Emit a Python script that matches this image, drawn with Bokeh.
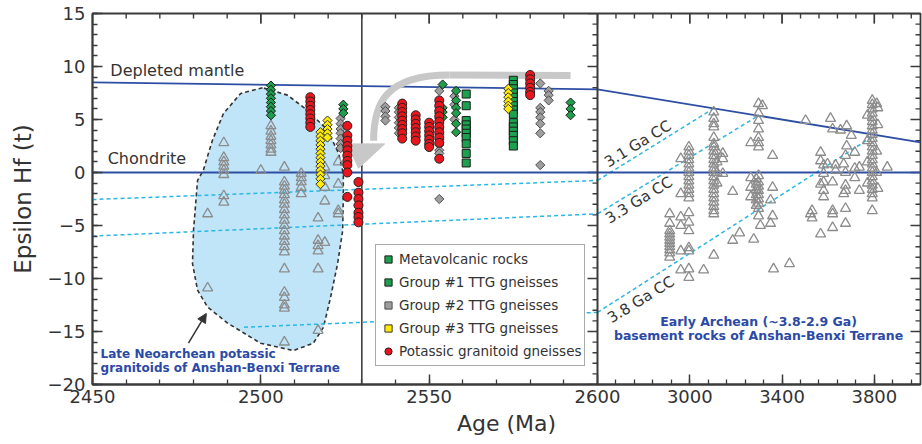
from bokeh.plotting import figure
from bokeh.models import (Range1d, LinearAxis, FixedTicker, Span, Legend, LegendItem,
                          Arrow, NormalHead)
from bokeh.core.properties import value
from bokeh.embed import file_html
from bokeh.resources import INLINE

# ---------------- data (Age in Ma, epsilon Hf(t)) ----------------
# Metavolcanic rocks (green squares)
mv_age = [2561, 2575]
mv_ehf = [[7.4, 6.3, 4.9, 4.5, 4.1, 3.7, 3.3, 2.7, 1.8, 0.9],
          [8.7, 8.3, 7.9, 7.5, 7.1, 6.7, 6.3, 5.9, 5.5, 4.7, 4.3, 3.9, 3.5, 3.0, 2.5]]
# Group #1 TTG gneisses (green diamonds)
g1_age = [2503, 2524.5, 2554, 2558, 2592]
g1_ehf = [[8.2, 7.8, 7.4, 7.0, 6.6, 6.2, 5.8, 5.4],
          [6.4, 6.0, 5.6],
          [8.3, 6.1, 5.7, 5.2],
          [7.7, 6.8, 6.1, 5.6, 4.6, 3.8],
          [6.6, 6.0, 5.4]]
# Group #2 TTG gneisses (grey diamonds)
g2_age = [2523.7, 2537, 2541, 2553, 2557.5, 2583, 2585.5]
g2_ehf = [[5.1, 4.6, 4.1, 3.7, 3.2, 2.7, 2.3],
          [6.2, 5.8, 5.3, 4.9],
          [6.1, 5.7, 5.2, 4.7, 4.2, 3.7],
          [7.7, 5.6, 5.1, 4.6, 4.1, 3.6, 3.1, 2.6, 2.1, 1.8, -2.5],
          [7.2, 6.4, 5.0],
          [8.4, 6.1, 5.7, 5.2, 4.6, 3.7, 0.7],
          [7.7, 7.3, 6.8]]
# Group #3 TTG gneisses (yellow diamonds)
g3_age = [2517.7, 2519.8, 2573.5]
g3_ehf = [[3.8, 3.4, 3.0, 2.6, 2.2, 1.8, 1.4, 1.0, 0.6, 0.2, -0.2, -0.6, -1.1],
          [4.9, 4.5, 4.1, 3.7, 3.3],
          [7.9, 7.5, 7.1, 6.7, 6.3, 6.0]]
# Potassic granitoid gneisses (red circles)
kg_age = [2514.7, 2525.7, 2529, 2542, 2546, 2550, 2553, 2580]
kg_ehf = [[7.1, 6.7, 6.3, 5.9, 5.5, 5.1, 4.7, 4.3],
          [4.4, 3.5, 3.0, 2.5, 2.1, 1.6, 1.1, 0.7, 0.0, -2.3],
          [-0.9, -1.9, -2.5, -3.1, -3.8, -4.2, -4.7],
          [6.5, 6.1, 5.7, 5.3, 4.9, 4.5, 4.1, 3.7, 3.2],
          [5.4, 5.0, 4.6, 4.2, 3.8, 3.4, 3.0],
          [4.7, 4.3, 3.9, 3.5, 3.1, 2.7, 2.4],
          [6.8, 6.3, 5.8, 5.3, 4.8, 4.3, 3.8, 3.3, 2.8, 1.3],
          [9.2, 8.8, 8.4, 8.0, 7.6, 7.3]]
# Late Neoarchean potassic granitoids (open triangles, left panel)
tl_age = [2484.2, 2489, 2500, 2503, 2507, 2512, 2517, 2519, 2523]
tl_ehf = [[-3.9, -10.9],
          [2.8, 1.4, 1.0, 0.6, 0.2, -0.2, -2.2, -2.8],
          [0.2],
          [4.4, 3.9, 3.4, 3.0, 2.6, 2.2, 1.9],
          [0.5, -0.9, -1.3, -1.7, -2.1, -2.6, -3.0, -3.5, -4.0, -4.5, -5.0, -5.5,
           -6.0, -6.5, -7.0, -7.5, -9.1, -11.3, -11.8, -12.5, -12.8, -16.0],
          [-0.1, -0.5, -0.9, -1.4, -2.0],
          [-4.3, -6.4, -6.9, -7.4, -9.1, -14.9],
          [0.5, -0.3, -1.4, -2.7, -6.6],
          [1.0, -1.1, -3.6, -3.9]]
# Early Archean basement rocks (open triangles, right panel)
tr_age = [2913, 2961, 2996, 3060, 3104, 3118, 3143, 3186, 3216, 3264, 3277, 3288, 3298,
          3306, 3315, 3350, 3359, 3363, 3432, 3502, 3523, 3530, 3567, 3580, 3597, 3610,
          3619, 3632, 3653, 3667, 3675, 3680, 3700, 3715, 3735, 3770, 3791, 3810, 3815, 3856]
tr_ehf = [[-3.9, -4.8, -5.5, -5.8, -6.1, -6.4, -6.7, -7.0, -7.3, -7.6, -8.0],
          [1.3, -2.0, -4.2, -5.0, -7.4, -9.2],
          [2.4, 2.0, 1.6, 1.2, 0.8, 0.4, 0.0, -0.4, -0.8, -1.2, -1.6, -2.0, -2.4,
           -3.8, -4.7, -5.5, -7.1, -7.4, -9.1, -9.9],
          [-9.2],
          [5.7, 5.1, 4.6, 4.3, 3.3, 2.7, 2.4, 2.0, 1.6, 1.2, 0.8, 0.4, 0.0, -0.4, -0.8,
           -1.2, -1.6, -2.0, -2.4, -2.8, -3.2, -3.6, -3.9, -7.8],
          [2.0, 1.0, 0.0, -1.0],
          [1.8, 1.3, -0.1],
          [-1.8, -6.4],
          [-5.7],
          [2.8, -0.5, -1.4, -2.3],
          [-6.3],
          [-0.6, -1.1, -1.6, -2.1, -2.6, -3.1],
          [6.5, 5.6, 4.9, 4.1, 3.3, 2.8, 2.4, -0.3, -0.9, -1.3, -1.7, -2.1, -2.5, -2.9, -3.4, -4.1],
          [-5.0],
          [6.3],
          [-2.6, -4.8],
          [1.6, -1.4, -4.1],
          [-9.1],
          [-8.6],
          [4.9],
          [-3.9],
          [-3.6, -4.3],
          [1.9, 1.1, -1.1, -5.8],
          [0.7, -0.1, -0.9, -1.7, -2.3],
          [0.8],
          [5.1],
          [4.1, -0.9, -3.6, -3.9, -5.2],
          [0.7, 0.2],
          [4.0],
          [0.8, -2.0],
          [1.6, 0.0, -1.2, -1.7, -3.4, -4.8],
          [4.4, 2.5],
          [3.5],
          [1.9, 0.4, -0.5],
          [0.5, -1.7],
          [5.4, 3.0, 1.0, -1.0],
          [6.8, 6.4, 6.0, 5.6, 5.2, 4.8, 4.4, 4.0, 3.6, 3.2, 2.8, 2.4, 2.0, 1.6, 1.2,
           0.8, 0.4, 0.0, -0.4, -0.8, -1.2, -1.6, -2.0, -2.4, -3.6],
          [6.5, 2.0, 0.0],
          [6.1, 4.5, -1.5],
          [0.5]]

# Reference curves: [left-panel start, 2600 Ma, right-panel end]
dm_age = [2450, 2600, 4000]
dm_ehf = [8.5, 7.85, 2.85]
chur_age = [2450, 2600, 4000]
chur_ehf = [0.0, 0.0, 0.0]
cc31_age = [2450, 2600, 3100]
cc31_ehf = [-2.55, -0.75, 6.0]
cc33_age = [2450, 2600, 3300]
cc33_ehf = [-6.0, -3.9, 5.4]
cc38_age = [2495, 2600, 3800]
cc38_ehf = [-14.6, -13.2, 3.5]

# Field of Late Neoarchean potassic granitoids
field_age = [2500.5, 2494.0, 2488.9, 2485.6, 2482.9, 2481.2, 2480.0, 2479.7, 2481.2, 2484.2,
             2490.1, 2499.9, 2509.7, 2515.6, 2518.6, 2520.7, 2522.8, 2524.3, 2524.5, 2524.5,
             2523.1, 2519.8, 2513.9, 2507.9]
field_ehf = [8.0, 7.45, 5.57, 3.02, 0.19, -0.75, -5.47, -8.58, -11.1, -12.7, -14.2, -16.1,
             -16.8, -16.1, -14.6, -11.8, -8.6, -5.5, -2.4, -0.1, 1.8, 4.0, 5.85, 7.3]

# Big grey arrow (straight part, curved part, head)
garrow_line_age = [2592, 2556]
garrow_line_ehf = [9.15, 9.2]
garrow_curve = dict(x0=2556, y0=9.2, x1=2533.5, y1=3.0, cx0=2537, cy0=9.2, cx1=2533.5, cy1=6.5)
garrow_head_age = [2525.7, 2536.8, 2529.0]
garrow_head_ehf = [2.7, 2.7, 0.4]

# Labels
cc_lab_age = [2775, 2780, 2788]
cc_lab_ehf = [2.7, -2.6, -12.0]
cc_lab_txt = ["3.1 Ga CC", "3.3 Ga CC", "3.8 Ga CC"]

x_major_left = [2450, 2500, 2550, 2600]
x_major_right = [3000, 3400, 3800]
y_major = [-20, -15, -10, -5, 0, 5, 10, 15]

# ---------------- layout ----------------
L_PX, R_PX = 505, 323          # widths of the two panels (px)
FRAME_H = 371
LEFT_SCALE = 150 / L_PX        # Ma per px in left panel
RIGHT_SCALE = 1400 / R_PX      # Ma per px in right panel
Y_SCALE = 35 / FRAME_H         # epsilon units per px
AX = "#3b3b3b"
TXT = "#333333"
FONT = "DejaVu Sans"
CYAN = "#2ab7e6"
DBLUE = "#2d4ea3"
LBLUE = "#2b4aa6"


def flat(ages, cols):
    xs, ys = [], []
    for a, c in zip(ages, cols):
        xs += [a] * len(c)
        ys += list(c)
    return xs, ys


def to_left(v):
    # position of a right-panel age expressed in left-panel axis units
    return 2600 + (v - 2600) / RIGHT_SCALE * LEFT_SCALE


p = figure(width=922, height=444, output_backend="svg", toolbar_location=None,
           x_range=Range1d(2450, 2600 + R_PX * LEFT_SCALE), y_range=Range1d(-20, 15),
           x_axis_location=None, y_axis_location=None,
           min_border_left=92, min_border_right=2, min_border_top=13, min_border_bottom=60)
p.extra_x_ranges = {"arch": Range1d(2600 - L_PX * RIGHT_SCALE, 4000)}
p.xgrid.visible = False
p.ygrid.visible = False
p.outline_line_color = AX
p.outline_line_width = 1.8
p.background_fill_color = "white"
p.border_fill_color = "white"


def style_axis(ax):
    ax.axis_line_color = AX
    ax.axis_line_width = 1.8
    ax.major_tick_line_color = AX
    ax.minor_tick_line_color = AX
    ax.major_tick_line_width = 1.5
    ax.minor_tick_line_width = 1.3
    ax.major_tick_in = 10
    ax.major_tick_out = 0
    ax.minor_tick_in = 5
    ax.minor_tick_out = 0
    ax.major_label_text_font = FONT
    ax.major_label_text_font_size = "18px"
    ax.major_label_text_color = TXT


x_minor_left = list(range(2460, 2600, 10))
x_minor_right = list(range(2680, 4000, 80))
x_major = [float(v) for v in x_major_left] + [to_left(v) for v in x_major_right]
x_minor = [float(v) for v in x_minor_left] + [to_left(v) for v in x_minor_right]
x_over = {t: str(v) for t, v in zip(x_major, x_major_left + x_major_right)}
y_minor = list(range(-20, 16))

bottom = LinearAxis(ticker=FixedTicker(ticks=x_major, minor_ticks=x_minor),
                    major_label_overrides=x_over, axis_label="Age (Ma)")
style_axis(bottom)
bottom.major_label_standoff = 5
bottom.axis_label_standoff = 5
bottom.axis_label_text_font = FONT
bottom.axis_label_text_font_size = "22px"
bottom.axis_label_text_font_style = "normal"
bottom.axis_label_text_color = TXT
p.add_layout(bottom, "below")

left = LinearAxis(ticker=FixedTicker(ticks=y_major, minor_ticks=y_minor), axis_label="Epsilon Hf (t)")
style_axis(left)
left.major_label_standoff = 7
left.axis_label_standoff = 9
left.axis_label_text_font = FONT
left.axis_label_text_font_size = "23px"
left.axis_label_text_font_style = "normal"
left.axis_label_text_color = TXT
p.add_layout(left, "left")

# inward ticks on the top edge, the 2600 Ma divider and the right edge
def tick_len(v, step):
    return 10 if v % step == 0 else 5

tl_x = x_major_left + x_minor_left
p.segment(x0=tl_x, y0=[15] * len(tl_x), x1=tl_x,
          y1=[15 - tick_len(v, 50) * Y_SCALE for v in tl_x], line_color=AX, line_width=1.4)
tr_x = x_major_right + x_minor_right
p.segment(x0=tr_x, y0=[15] * len(tr_x), x1=tr_x,
          y1=[15 - (10 if v in x_major_right else 5) * Y_SCALE for v in tr_x],
          line_color=AX, line_width=1.4, x_range_name="arch")
p.segment(x0=[2600 - tick_len(v, 5) * LEFT_SCALE for v in y_minor], y0=y_minor,
          x1=[2600] * len(y_minor), y1=y_minor, line_color=AX, line_width=1.4)
p.segment(x0=[4000 - tick_len(v, 5) * RIGHT_SCALE for v in y_minor], y0=y_minor,
          x1=[4000] * len(y_minor), y1=y_minor, line_color=AX, line_width=1.4,
          x_range_name="arch")

# ---------------- field & reference curves ----------------
p.patch(field_age, field_ehf, fill_color="#c0e4f8", line_color="#333333",
        line_dash="4 3", line_width=1.6)

for ages, vals in ((cc31_age, cc31_ehf), (cc33_age, cc33_ehf), (cc38_age, cc38_ehf)):
    p.line(ages[:2], vals[:2], line_color=CYAN, line_width=1.5, line_dash="4 3")
    p.line(ages[1:], vals[1:], line_color=CYAN, line_width=1.5, line_dash="4 3", x_range_name="arch")

for ages, vals in ((dm_age, dm_ehf), (chur_age, chur_ehf)):
    p.line(ages[:2], vals[:2], line_color=DBLUE, line_width=1.8)
    p.line(ages[1:], vals[1:], line_color=DBLUE, line_width=1.8, x_range_name="arch")

# panel divider at 2600 Ma and line at 2530 Ma
p.add_layout(Span(location=2600, dimension="height", line_color=AX, line_width=2))
p.add_layout(Span(location=2530, dimension="height", line_color="#333333", line_width=1.5,
                  level="underlay"))

# big grey arrow
GREY = "#c8c8c8"
p.line(garrow_line_age, garrow_line_ehf, line_color=GREY, line_width=7)
p.bezier(line_color=GREY, line_width=7, **{k: [v] for k, v in garrow_curve.items()})
p.patch(garrow_head_age, garrow_head_ehf, fill_color=GREY, line_color=GREY)

# ---------------- data points ----------------
x, y = flat(tl_age, tl_ehf)
p.scatter(x, y, marker="triangle", size=10, fill_color=None, line_color="#8c8c8c", line_width=1.3)
x, y = flat(tr_age, tr_ehf)
p.scatter(x, y, marker="triangle", size=10, fill_color=None, line_color="#8c8c8c", line_width=1.3,
          x_range_name="arch")

x, y = flat(g2_age, g2_ehf)
r_g2 = p.scatter(x, y, marker="square", angle=0.785398, size=6.5, fill_color="#9e9e9e",
                 line_color="#4d4d4d", line_width=1)
x, y = flat(mv_age, mv_ehf)
r_mv = p.scatter(x, y, marker="square", size=8, fill_color="#1ca24e", line_color="#1a1a1a", line_width=1)
x, y = flat(g1_age, g1_ehf)
r_g1 = p.scatter(x, y, marker="square", angle=0.785398, size=6.5, fill_color="#1f9e4c",
                 line_color="#1a1a1a", line_width=1)
x, y = flat(g3_age, g3_ehf)
r_g3 = p.scatter(x, y, marker="square", angle=0.785398, size=6.5, fill_color="#ffec00",
                 line_color="#333333", line_width=1)
x, y = flat(kg_age, kg_ehf)
r_kg = p.scatter(x, y, marker="circle", size=9, fill_color="#e8161c", line_color="#222222", line_width=1)

# ---------------- texts ----------------
p.text(x=[2455.3], y=[9.6], text=["Depleted  mantle"], text_font=value(FONT),
       text_font_size=value("16px"), text_color=TXT, text_baseline="middle", text_align="left")
p.text(x=[2454.5], y=[1.3], text=["Chondrite"], text_font=value(FONT),
       text_font_size=value("16px"), text_color=TXT, text_baseline="middle", text_align="left")
p.text(x=cc_lab_age, y=cc_lab_ehf, text=cc_lab_txt, angle=0.55, text_font=value(FONT),
       text_font_size=value("15px"), text_color=TXT, text_baseline="middle", text_align="center",
       x_range_name="arch")
p.text(x=[2452.4, 2452.4], y=[-17.1, -18.4],
       text=["Late Neoarchean potassic", "granitoids of Anshan-Benxi Terrane"],
       text_font=value(FONT), text_font_size=value("12px"), text_font_style="bold",
       text_color=LBLUE, text_baseline="middle", text_align="left")
p.text(x=[3298, 3298], y=[-14.1, -15.4],
       text=["Early Archean (~3.8-2.9 Ga)", "basement rocks of Anshan-Benxi Terrane"],
       text_font=value(FONT), text_font_size=value("12.5px"), text_font_style="bold",
       text_color=LBLUE, text_baseline="middle", text_align="center", x_range_name="arch")

p.add_layout(Arrow(end=NormalHead(size=9, fill_color="#333333", line_color="#333333"),
                   x_start=2478.5, y_start=-16.1, x_end=2483.8, y_end=-13.3,
                   line_color="#333333", line_width=1.5))

# ---------------- legend ----------------
legend = Legend(items=[LegendItem(label="Metavolcanic rocks", renderers=[r_mv]),
                       LegendItem(label="Group #1 TTG gneisses", renderers=[r_g1]),
                       LegendItem(label="Group #2 TTG gneisses", renderers=[r_g2]),
                       LegendItem(label="Group #3 TTG gneisses", renderers=[r_g3]),
                       LegendItem(label="Potassic granitoid gneisses", renderers=[r_kg])],
                location=(283, 18), padding=3, spacing=1, margin=0,
                glyph_width=18, glyph_height=22, label_height=22, label_standoff=2,
                label_text_font=FONT, label_text_font_size="13.5px", label_text_color=TXT,
                border_line_color="#555555", border_line_width=1.2,
                background_fill_color="white", background_fill_alpha=1.0)
p.add_layout(legend)

open("out.html", "w").write(file_html(p, INLINE))
